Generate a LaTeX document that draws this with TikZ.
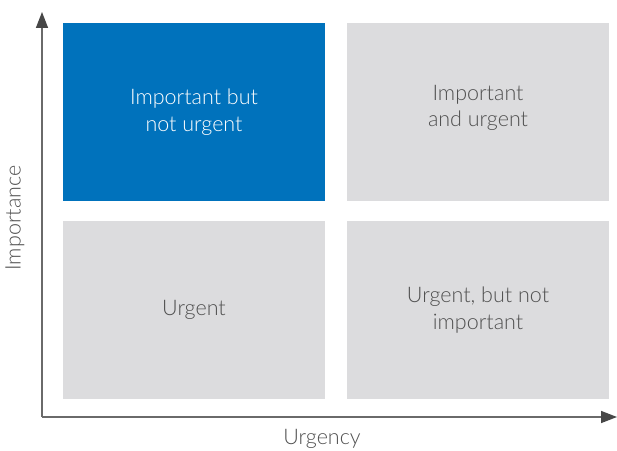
\documentclass[tikz,border=0pt]{standalone}
\usepackage{fontspec}
\setmainfont{Lato}[UprightFont=* Light]
\usetikzlibrary{arrows.meta}
\definecolor{boxgray}{HTML}{DCDCDE}
\definecolor{boxblue}{HTML}{0072BC}
\definecolor{txtgray}{HTML}{505050}
\definecolor{axisgray}{HTML}{6A6A6A}
\begin{document}
\begin{tikzpicture}[x=1pt,y=1pt,
  quad/.style={fill=boxgray,draw=none,minimum width=262pt,minimum height=178pt,inner sep=0pt,
    text=txtgray,align=center,font=\fontsize{21.5}{26.5}\selectfont},
  hot/.style={quad,fill=boxblue,text=white},
  qtext/.style={text=txtgray,align=center,inner sep=0pt,font=\fontsize{21.5}{26.5}\selectfont},
  axis/.style={draw=axisgray,line width=1.5pt,-{Triangle[length=16pt,width=12pt,fill=black!72,color=black!72]}},
  lbl/.style={text=txtgray,font=\fontsize{21.5}{24}\selectfont,inner sep=0pt}]
\useasboundingbox (0,0) rectangle (617,450);
\node[hot] (q1) at (194,338) {Important but\\not urgent};
\node[quad] (q2) at (478,338) {};
\node[qtext] (q2t) at ([yshift=4pt]q2.center) {Important\\and urgent};
\node[quad] (q3) at (194,140) {Urgent};
\node[quad] (q4) at (478,140) {Urgent, but not\\important};
\coordinate (o) at (42,33);
\coordinate (ytop) at (42,438);
\coordinate (xend) at (617,33);
\draw[axis] (o) -- (ytop);
\draw[axis] (o) -- (xend);
\node[lbl,rotate=90] (ylab) at (15,232) {Importance};
\node[lbl] (xlab) at (322,11) {Urgency};
\end{tikzpicture}
\end{document}
